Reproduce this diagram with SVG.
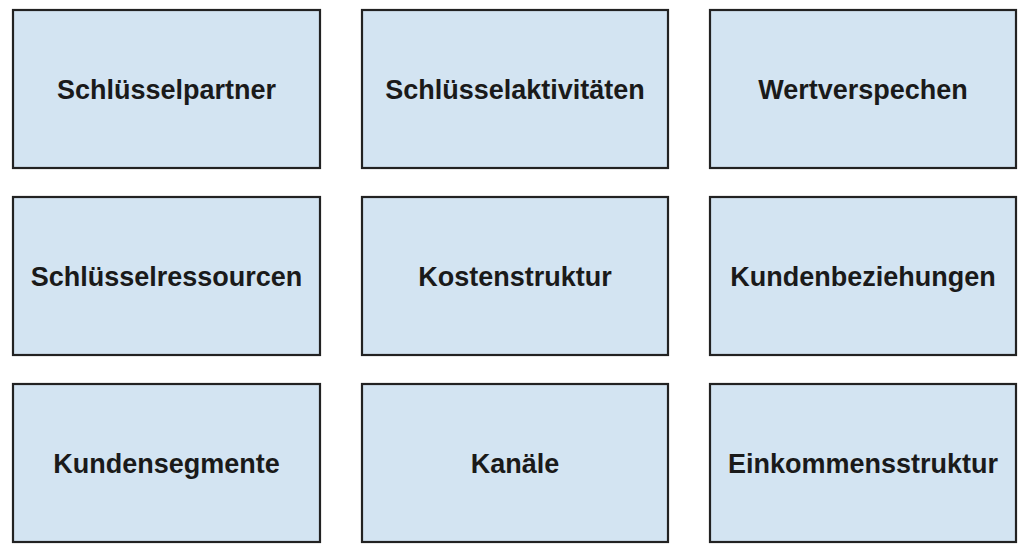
<svg xmlns="http://www.w3.org/2000/svg" width="1024" height="550" viewBox="0 0 1024 550">
<style>
.box{fill:#d3e4f2;stroke:#222;stroke-width:2.2}
.lbl{font-family:"Liberation Sans",Arial,sans-serif;font-weight:bold;font-size:27px;fill:#1a1a1a;text-anchor:middle;dominant-baseline:central}
</style>
<rect width="1024" height="550" fill="#fff"/>
<g id="n1"><rect class="box" x="13" y="10" width="307" height="158"/><text class="lbl" x="166.5" y="90">Schlüsselpartner</text></g>
<g id="n2"><rect class="box" x="362" y="10" width="306" height="158"/><text class="lbl" x="515" y="90">Schlüsselaktivitäten</text></g>
<g id="n3"><rect class="box" x="710" y="10" width="306" height="158"/><text class="lbl" x="863" y="90">Wertverspechen</text></g>
<g id="n4"><rect class="box" x="13" y="197" width="307" height="158"/><text class="lbl" x="166.5" y="277">Schlüsselressourcen</text></g>
<g id="n5"><rect class="box" x="362" y="197" width="306" height="158"/><text class="lbl" x="515" y="277">Kostenstruktur</text></g>
<g id="n6"><rect class="box" x="710" y="197" width="306" height="158"/><text class="lbl" x="863" y="277">Kundenbeziehungen</text></g>
<g id="n7"><rect class="box" x="13" y="384" width="307" height="158"/><text class="lbl" x="166.5" y="464">Kundensegmente</text></g>
<g id="n8"><rect class="box" x="362" y="384" width="306" height="158"/><text class="lbl" x="515" y="464">Kanäle</text></g>
<g id="n9"><rect class="box" x="710" y="384" width="306" height="158"/><text class="lbl" x="863" y="464">Einkommensstruktur</text></g>
<g id="connectors"></g>
</svg>
